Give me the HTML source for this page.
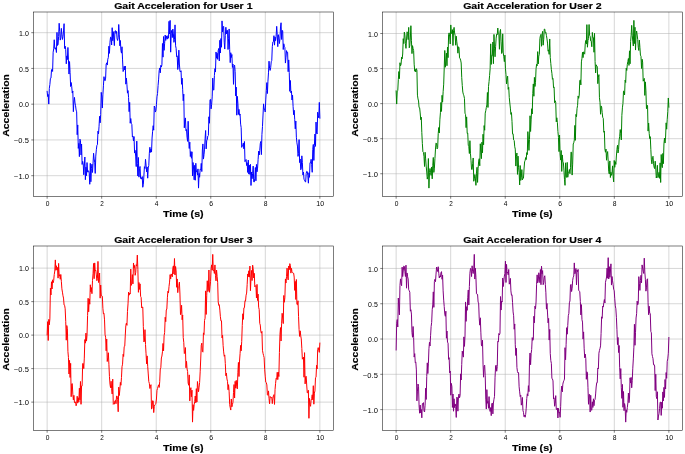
<!DOCTYPE html>
<html><head><meta charset="utf-8"><style>html,body{margin:0;padding:0;background:#fff}svg{display:block;will-change:transform}text{font-family:"Liberation Sans",sans-serif}</style></head><body>
<svg width="685" height="454" viewBox="0 0 685 454">
<rect width="685" height="454" fill="#fff"/>
<defs><clipPath id="c0"><rect x="33.5" y="12" width="300" height="184.5"/></clipPath><clipPath id="c1"><rect x="382.5" y="12" width="300" height="184.5"/></clipPath><clipPath id="c2"><rect x="33.5" y="246" width="300" height="184.5"/></clipPath><clipPath id="c3"><rect x="382.5" y="246" width="300" height="184.5"/></clipPath></defs>
<path d="M47.14 12V196.5M101.68 12V196.5M156.23 12V196.5M210.77 12V196.5M265.32 12V196.5M319.86 12V196.5M33.5 175.69H333.5M33.5 139.94H333.5M33.5 104.18H333.5M33.5 68.43H333.5M33.5 32.68H333.5" stroke="#b0b0b0" stroke-width="0.51" fill="none" stroke-linecap="square" clip-path="url(#c0)"/>
<polyline points="47.14,91.39 47.68,96.56 48.23,94.51 48.78,104.08 49.32,88.35 49.87,84.58 50.42,78.4 50.96,78.16 51.51,69.99 52.06,69.21 52.6,71.48 53.15,52.2 53.69,48.85 54.24,39.75 54.79,48.65 55.33,49.15 55.88,47.63 56.43,52.51 56.97,32.39 57.52,45.51 58.07,44.59 58.61,36.35 59.16,23.28 59.71,31.52 60.25,40.12 60.8,37.77 61.35,28.36 61.89,34.42 62.44,39.49 62.99,36.63 63.53,30.93 64.08,23.67 64.63,48.5 65.17,46.14 65.72,49.72 66.27,63.82 66.81,55.9 67.36,59.61 67.91,47.45 68.45,59.82 69,74.05 69.54,61.56 70.09,72.61 70.64,86.55 71.18,82.5 71.73,86.68 72.28,93.05 72.82,90.99 73.37,111.73 73.92,102.05 74.46,97.39 75.01,103.03 75.56,105.69 76.1,110.05 76.65,111.8 77.2,134.75 77.74,124.93 78.29,148.4 78.84,143.4 79.38,156.64 79.93,139.16 80.48,140.65 81.02,154.95 81.57,144.01 82.12,164.47 82.66,161.3 83.21,163.78 83.76,174.75 84.3,166.01 84.85,157.03 85.39,179.71 85.94,167.17 86.49,175.65 87.03,162.55 87.58,172.13 88.13,170.85 88.67,170.91 89.22,173.26 89.77,184.27 90.31,163.31 90.86,181.77 91.41,168.69 91.95,164.18 92.5,172.48 93.05,163.11 93.59,153.23 94.14,158.96 94.69,162.13 95.23,173.4 95.78,156.09 96.33,149.78 96.87,145.5 97.42,144.77 97.97,131.17 98.51,133.83 99.06,126.25 99.6,116.27 100.15,122.84 100.7,114.42 101.24,92.35 101.79,97.03 102.34,108.04 102.88,94.88 103.43,85.84 103.98,76.68 104.52,80.12 105.07,80.77 105.62,78.09 106.16,64.27 106.71,62.8 107.26,65.05 107.8,59.19 108.35,57.48 108.9,46.18 109.44,53.37 109.99,42.25 110.54,37.17 111.08,37.54 111.63,45 112.18,27.69 112.72,40.7 113.27,31.61 113.82,39.13 114.36,45.58 114.91,31.14 115.45,30.63 116,33.45 116.55,31.42 117.09,38.8 117.64,40.49 118.19,37.75 118.73,24.49 119.28,34.17 119.83,45.83 120.37,40.47 120.92,50.48 121.47,53.14 122.01,46.76 122.56,59.9 123.11,71.56 123.65,69.66 124.2,66.31 124.75,69.95 125.29,66.03 125.84,84.19 126.39,78.1 126.93,84.63 127.48,93.15 128.03,90.57 128.57,97.51 129.12,111.7 129.67,102.37 130.21,123.23 130.76,118.51 131.3,123.29 131.85,124.57 132.4,137 132.94,136.15 133.49,140.88 134.04,136.57 134.58,153.06 135.13,150.35 135.68,156.06 136.22,166.59 136.77,141.08 137.32,163.41 137.86,175.98 138.41,157.48 138.96,177.17 139.5,168.56 140.05,166.48 140.6,178.45 141.14,177.78 141.69,179.17 142.24,176.56 142.78,187.28 143.33,184.27 143.88,175.92 144.42,166.68 144.97,168.51 145.51,159.31 146.06,165.09 146.61,171.83 147.15,166.92 147.7,178.18 148.25,167.91 148.79,165.5 149.34,153.21 149.89,147.25 150.43,152.45 150.98,149.03 151.53,152.1 152.07,138.02 152.62,131.28 153.17,125.69 153.71,130.2 154.26,106.03 154.81,107.29 155.35,112.06 155.9,110.65 156.45,104.68 156.99,96.81 157.54,93.55 158.09,85.54 158.63,79.13 159.18,70.57 159.73,67.94 160.27,72.85 160.82,65.33 161.36,67.06 161.91,64.84 162.46,43.49 163,57.15 163.55,36.53 164.1,50.37 164.64,43.41 165.19,35 165.74,40.43 166.28,35.86 166.83,38.72 167.38,38.99 167.92,35.64 168.47,38.24 169.02,21.35 169.56,33.92 170.11,20.39 170.66,52.17 171.2,33.39 171.75,30.34 172.3,37.57 172.84,29.02 173.39,33.92 173.94,42.36 174.48,39.45 175.03,24.86 175.58,45.8 176.12,48.32 176.67,56.69 177.21,55.86 177.76,69.5 178.31,65.34 178.85,50.14 179.4,64.03 179.95,71.14 180.49,72.02 181.04,70.74 181.59,84.31 182.13,78.17 182.68,89.79 183.23,100.74 183.77,94.14 184.32,127.8 184.87,119.48 185.41,117.91 185.96,130.7 186.51,129.57 187.05,137.21 187.6,141.39 188.15,121.26 188.69,139.96 189.24,148.47 189.79,142.15 190.33,156.52 190.88,151.57 191.42,158.26 191.97,151.77 192.52,175.96 193.06,162.49 193.61,169 194.16,179.8 194.7,165.29 195.25,180.25 195.8,163.26 196.34,171.73 196.89,170.69 197.44,175.07 197.98,168.88 198.53,188.11 199.08,173.38 199.62,177.27 200.17,169.35 200.72,170.04 201.26,163.36 201.81,171.57 202.36,150 202.9,143.93 203.45,159.09 204,154.62 204.54,149.16 205.09,138.69 205.64,130.51 206.18,148.89 206.73,140.71 207.27,139.82 207.82,135.99 208.37,135.46 208.91,116.78 209.46,123.24 210.01,99.73 210.55,99.49 211.1,108.85 211.65,104.36 212.19,96.91 212.74,78.1 213.29,89.84 213.83,90.17 214.38,75.67 214.93,68.59 215.47,72.03 216.02,51.97 216.57,58.21 217.11,53.24 217.66,59.34 218.21,50.45 218.75,48.45 219.3,60.96 219.85,40.27 220.39,53.03 220.94,38.52 221.49,47.23 222.03,20.9 222.58,31.93 223.12,27.3 223.67,26.36 224.22,42.16 224.76,49.05 225.31,35.42 225.86,27.25 226.4,33.9 226.95,30.1 227.5,30.45 228.04,49.52 228.59,38.75 229.14,28.96 229.68,49.55 230.23,62.67 230.78,52.72 231.32,57.5 231.87,54.5 232.42,67.38 232.96,64.02 233.51,84.35 234.06,66.36 234.6,65.21 235.15,71.48 235.7,95.9 236.24,87.15 236.79,115.2 237.33,96.31 237.88,103.29 238.43,114.46 238.97,109.36 239.52,115.29 240.07,113.97 240.61,124.13 241.16,127.62 241.71,147.37 242.25,145.8 242.8,144.83 243.35,143.07 243.89,148.84 244.44,141.49 244.99,161.68 245.53,160.21 246.08,159.49 246.63,165.56 247.17,162.72 247.72,172.45 248.27,160.07 248.81,174.11 249.36,165.17 249.91,174.42 250.45,164.31 251,185.47 251.55,171.99 252.09,178.71 252.64,173.6 253.18,166.09 253.73,181.85 254.28,181.97 254.82,178.2 255.37,167.51 255.92,180.84 256.46,164.42 257.01,171.84 257.56,168.11 258.1,159.64 258.65,151.14 259.2,155.01 259.74,150.53 260.29,143.62 260.84,141.43 261.38,154.64 261.93,134.47 262.48,126.57 263.02,115.02 263.57,103.86 264.12,109.29 264.66,109.02 265.21,111.98 265.76,99.95 266.3,90.53 266.85,82.6 267.4,93.54 267.94,81.21 268.49,72.82 269.03,61.19 269.58,68.64 270.13,70.43 270.67,67.74 271.22,61.78 271.77,60.48 272.31,46.69 272.86,41.94 273.41,41.6 273.95,35.69 274.5,45.13 275.05,37.08 275.59,40.72 276.14,36.09 276.69,26.34 277.23,34.29 277.78,46.67 278.33,34.67 278.87,37.78 279.42,43.57 279.97,38.81 280.51,26.95 281.06,22.75 281.61,39.48 282.15,30.3 282.7,30.8 283.24,49.53 283.79,43.77 284.34,46.31 284.88,47.49 285.43,63.07 285.98,57.32 286.52,50.62 287.07,52.69 287.62,52.33 288.16,71.69 288.71,59.91 289.26,72.63 289.8,91.34 290.35,80.48 290.9,92.84 291.44,91.05 291.99,99.97 292.54,95.09 293.08,106.4 293.63,114.74 294.18,110.27 294.72,119.73 295.27,128.85 295.82,121.01 296.36,137.2 296.91,142.86 297.46,146.05 298,156.4 298.55,153.45 299.09,139.58 299.64,162.58 300.19,159.01 300.73,169.77 301.28,168.77 301.83,155.84 302.37,162.35 302.92,174.93 303.47,172.06 304.01,179.29 304.56,179.99 305.11,181.64 305.65,181.95 306.2,173.36 306.75,171.3 307.29,171.66 307.84,175.67 308.39,183.2 308.93,172.73 309.48,177.34 310.03,162.65 310.57,162.94 311.12,159.3 311.67,164.61 312.21,172.31 312.76,149.54 313.31,144.44 313.85,160.45 314.4,145.3 314.94,134.04 315.49,146.39 316.04,122.05 316.58,133.05 317.13,134.01 317.68,112.19 318.22,115.5 318.77,117.83 319.32,102.39 319.86,118.17" stroke="#0000ff" stroke-width="1" fill="none" stroke-linejoin="round" stroke-linecap="square" clip-path="url(#c0)"/>
<rect x="33.5" y="12" width="300" height="184.5" fill="none" stroke="#000" stroke-width="0.51" stroke-linejoin="miter"/>
<path d="M47.14 196.5v2.22M101.68 196.5v2.22M156.23 196.5v2.22M210.77 196.5v2.22M265.32 196.5v2.22M319.86 196.5v2.22M33.5 175.69h-2.22M33.5 139.94h-2.22M33.5 104.18h-2.22M33.5 68.43h-2.22M33.5 32.68h-2.22" stroke="#000" stroke-width="0.51" fill="none"/>
<path d="M396.14 12V196.5M450.68 12V196.5M505.23 12V196.5M559.77 12V196.5M614.32 12V196.5M668.86 12V196.5M382.5 173.74H682.5M382.5 138.68H682.5M382.5 103.63H682.5M382.5 68.57H682.5M382.5 33.51H682.5" stroke="#b0b0b0" stroke-width="0.51" fill="none" stroke-linecap="square" clip-path="url(#c1)"/>
<polyline points="396.14,90.9 396.68,104.06 397.23,91.07 397.78,90.67 398.32,79.7 398.87,71.54 399.42,78.7 399.96,62.74 400.51,65.85 401.06,64.37 401.6,57.13 402.15,58.88 402.69,54 403.24,38.66 403.79,43.6 404.33,32.12 404.88,35.03 405.43,43.57 405.97,48.37 406.52,38.97 407.07,31.79 407.61,33.46 408.16,39.63 408.71,27.39 409.25,47.8 409.8,45.85 410.35,37.98 410.89,25.71 411.44,40.75 411.99,53.62 412.53,45.65 413.08,48.56 413.63,50.61 414.17,64.16 414.72,71.23 415.27,69.35 415.81,72.01 416.36,68.63 416.91,70.23 417.45,95.17 418,98.93 418.54,100.98 419.09,107.58 419.64,107.71 420.18,112.95 420.73,119.72 421.28,117.17 421.82,132.64 422.37,143.67 422.92,151.83 423.46,152.47 424.01,156.73 424.56,166.49 425.1,152.23 425.65,158.87 426.2,166.1 426.74,172 427.29,179.12 427.84,176.39 428.38,158.52 428.93,188.11 429.48,172.37 430.02,168.5 430.57,172.71 431.12,175.43 431.66,166.98 432.21,178.86 432.76,165.61 433.3,157.47 433.85,172.44 434.39,168.17 434.94,158.42 435.49,149.07 436.03,142.95 436.58,143.62 437.13,148.89 437.67,147.57 438.22,133.42 438.77,127.51 439.31,133.05 439.86,119.82 440.41,112.72 440.95,102.47 441.5,111.45 442.05,95.31 442.59,102.14 443.14,91.72 443.69,84.15 444.23,67.95 444.78,50.48 445.33,67.24 445.87,61.04 446.42,53.17 446.97,65.75 447.51,47.07 448.06,57.67 448.6,34.39 449.15,32.86 449.7,36.98 450.24,44.03 450.79,24.93 451.34,33.44 451.88,33.51 452.43,29.64 452.98,45.52 453.52,30.73 454.07,27.36 454.62,32.98 455.16,35.74 455.71,45.23 456.26,36.18 456.8,41.8 457.35,46 457.9,53.2 458.44,46.74 458.99,47.78 459.54,57.86 460.08,58.59 460.63,60.11 461.18,62.98 461.72,77.42 462.27,85.52 462.82,92.07 463.36,94.29 463.91,95.79 464.45,98.37 465,113.23 465.55,114.44 466.09,127.66 466.64,116.89 467.19,133.46 467.73,133.01 468.28,145.18 468.83,146.64 469.37,153.54 469.92,140.7 470.47,153.78 471.01,160.81 471.56,169.31 472.11,169.63 472.65,163.7 473.2,157.97 473.75,181.28 474.29,178.88 474.84,174.5 475.39,178.09 475.93,185.33 476.48,173.18 477.03,167.27 477.57,182.42 478.12,168.32 478.67,161.1 479.21,158.68 479.76,165.84 480.3,143.75 480.85,152.7 481.4,158.66 481.94,142.17 482.49,152.78 483.04,134.24 483.58,144.76 484.13,125.58 484.68,130.26 485.22,113.16 485.77,110.73 486.32,107.54 486.86,104.98 487.41,92.48 487.96,107.47 488.5,86.56 489.05,81.55 489.6,75.48 490.14,68.73 490.69,43.83 491.24,64.43 491.78,55.29 492.33,55.79 492.88,42.02 493.42,63.69 493.97,34.41 494.51,48.22 495.06,56.75 495.61,46.26 496.15,38.12 496.7,34.1 497.25,34.74 497.79,28.04 498.34,33.76 498.89,34.11 499.43,49.25 499.98,31.75 500.53,29.41 501.07,41.17 501.62,53.47 502.17,52.13 502.71,33.83 503.26,52.94 503.81,56.8 504.35,61.62 504.9,55.11 505.45,68.27 505.99,74.73 506.54,83.88 507.09,78.93 507.63,76.16 508.18,89.34 508.73,87.32 509.27,97.55 509.82,103.03 510.36,108.1 510.91,114.38 511.46,112.62 512,121.49 512.55,133.95 513.1,133.83 513.64,139.91 514.19,140.43 514.74,146.79 515.28,149.11 515.83,166.07 516.38,156.44 516.92,152.97 517.47,174.39 518.02,156.09 518.56,167.27 519.11,172.46 519.66,184.93 520.2,165.53 520.75,180.44 521.3,177.31 521.84,169.58 522.39,179.88 522.94,178.5 523.48,178.16 524.03,168.99 524.58,161.84 525.12,160.54 525.67,157.57 526.21,159.58 526.76,152.61 527.31,154.58 527.85,131.61 528.4,139.9 528.95,150.4 529.49,139.43 530.04,115.78 530.59,131.53 531.13,119.86 531.68,108.73 532.23,113.96 532.77,93.5 533.32,83.93 533.87,96.25 534.41,77.39 534.96,86.5 535.51,82.32 536.05,68.84 536.6,64.32 537.15,65.81 537.69,51.61 538.24,63.96 538.79,56.09 539.33,54.38 539.88,38.57 540.42,35.65 540.97,34.37 541.52,46.25 542.06,34.74 542.61,31.35 543.16,45.19 543.7,39.29 544.25,29.09 544.8,29.16 545.34,33.19 545.89,32.45 546.44,35.63 546.98,38.88 547.53,43.09 548.08,51.18 548.62,49.87 549.17,54.37 549.72,38.98 550.26,57.38 550.81,63.5 551.36,69.5 551.9,73.33 552.45,79.27 553,78.52 553.54,87.65 554.09,86.95 554.64,102.77 555.18,100.73 555.73,102.33 556.27,121.84 556.82,117.78 557.37,122.34 557.91,131.42 558.46,137.35 559.01,151.62 559.55,135.05 560.1,153.91 560.65,160.07 561.19,150.5 561.74,171.41 562.29,154.94 562.83,161.45 563.38,162.75 563.93,170.19 564.47,179.29 565.02,185.33 565.57,162.82 566.11,176.89 566.66,177.36 567.21,162.39 567.75,177.26 568.3,173.46 568.85,172.02 569.39,169.51 569.94,173.65 570.49,167.75 571.03,151.93 571.58,152.39 572.12,175.08 572.67,164.13 573.22,143.98 573.76,142.8 574.31,140.09 574.86,125.42 575.4,140.35 575.95,114.39 576.5,116.73 577.04,108.59 577.59,105.38 578.14,95.93 578.68,98.33 579.23,95.13 579.78,80.68 580.32,79.85 580.87,84.93 581.42,61.88 581.96,58.25 582.51,52.24 583.06,57.63 583.6,51.83 584.15,53.34 584.7,54.17 585.24,43.89 585.79,40.46 586.33,44.04 586.88,24.63 587.43,47.22 587.97,40.44 588.52,38.65 589.07,24.5 589.61,35.37 590.16,36.27 590.71,41.01 591.25,41.37 591.8,46.75 592.35,32.45 592.89,37.64 593.44,37.65 593.99,52.26 594.53,33.34 595.08,61.48 595.63,72.92 596.17,64.75 596.72,66.15 597.27,66.43 597.81,83.67 598.36,77.36 598.91,74.61 599.45,97.74 600,102.21 600.55,114.24 601.09,105.91 601.64,106.86 602.18,112.71 602.73,117.38 603.28,118.32 603.82,132.24 604.37,131.17 604.92,149.04 605.46,152.22 606.01,149.04 606.56,160.25 607.1,154 607.65,151.55 608.2,161.22 608.74,171.73 609.29,173.96 609.84,160.92 610.38,177.49 610.93,172.28 611.48,175.34 612.02,173.37 612.57,165.87 613.12,176.75 613.66,181.88 614.21,160.45 614.76,167.31 615.3,161.67 615.85,164.41 616.4,155.99 616.94,149.42 617.49,145.24 618.03,152.97 618.58,149.49 619.13,139.97 619.67,136.78 620.22,129.57 620.77,133.65 621.31,139.95 621.86,115.37 622.41,107.83 622.95,103.53 623.5,91.11 624.05,91.48 624.59,94.92 625.14,80.1 625.69,82.51 626.23,68.15 626.78,70.46 627.33,64.31 627.87,61.46 628.42,58.48 628.97,65.41 629.51,50.84 630.06,63.81 630.61,41.34 631.15,35.16 631.7,25.37 632.24,35.13 632.79,41.15 633.34,46.03 633.88,20.39 634.43,43.59 634.98,27.26 635.52,50.06 636.07,35 636.62,30.99 637.16,35.03 637.71,39.51 638.26,47.27 638.8,50.48 639.35,40.02 639.9,47.32 640.44,55.1 640.99,56.4 641.54,68.49 642.08,59.2 642.63,62.11 643.18,81.2 643.72,79.95 644.27,78.38 644.82,95.4 645.36,81.87 645.91,90.83 646.46,108.67 647,105.13 647.55,105.57 648.09,131.1 648.64,123.08 649.19,133.34 649.73,138.6 650.28,136.65 650.83,149.32 651.37,159.88 651.92,163.87 652.47,157.58 653.01,156.27 653.56,163.76 654.11,167.24 654.65,168.6 655.2,161.19 655.75,167.97 656.29,178 656.84,175.47 657.39,165.28 657.93,177.68 658.48,175.87 659.03,172.36 659.57,178.35 660.12,162.87 660.67,182.48 661.21,154.53 661.76,164.99 662.31,167.64 662.85,153.44 663.4,163.7 663.94,143.94 664.49,138.05 665.04,143.04 665.58,137.06 666.13,122.83 666.68,129.2 667.22,119.22 667.77,111.74 668.32,97.98 668.86,107.15" stroke="#008000" stroke-width="1" fill="none" stroke-linejoin="round" stroke-linecap="square" clip-path="url(#c1)"/>
<rect x="382.5" y="12" width="300" height="184.5" fill="none" stroke="#000" stroke-width="0.51" stroke-linejoin="miter"/>
<path d="M396.14 196.5v2.22M450.68 196.5v2.22M505.23 196.5v2.22M559.77 196.5v2.22M614.32 196.5v2.22M668.86 196.5v2.22M382.5 173.74h-2.22M382.5 138.68h-2.22M382.5 103.63h-2.22M382.5 68.57h-2.22M382.5 33.51h-2.22" stroke="#000" stroke-width="0.51" fill="none"/>
<path d="M47.14 246V430.5M101.68 246V430.5M156.23 246V430.5M210.77 246V430.5M265.32 246V430.5M319.86 246V430.5M33.5 402.12H333.5M33.5 368.62H333.5M33.5 335.12H333.5M33.5 301.62H333.5M33.5 268.12H333.5" stroke="#b0b0b0" stroke-width="0.51" fill="none" stroke-linecap="square" clip-path="url(#c2)"/>
<polyline points="47.14,334.89 47.68,321.64 48.23,340.5 48.78,319.41 49.32,324.78 49.87,318.87 50.42,288.21 50.96,294.94 51.51,281.76 52.06,288.99 52.6,279.8 53.15,282.77 53.69,280.42 54.24,274.58 54.79,271.03 55.33,259.91 55.88,270.3 56.43,265.75 56.97,269.85 57.52,267.51 58.07,278.14 58.61,263.42 59.16,276.11 59.71,274.7 60.25,279.25 60.8,274.5 61.35,281.3 61.89,288.79 62.44,292.15 62.99,295.8 63.53,298.09 64.08,305.07 64.63,305.37 65.17,308.81 65.72,321.34 66.27,340.19 66.81,325.52 67.36,328.71 67.91,351.38 68.45,357.43 69,374.02 69.54,360.38 70.09,377.48 70.64,363.33 71.18,396.73 71.73,383.84 72.28,383.62 72.82,394.23 73.37,399.83 73.92,395.33 74.46,402.56 75.01,402.85 75.56,401.83 76.1,405.8 76.65,403.58 77.2,396.24 77.74,403.08 78.29,397.78 78.84,401.9 79.38,388.19 79.93,399.93 80.48,381.47 81.02,404.32 81.57,385.92 82.12,385.9 82.66,363.58 83.21,363.42 83.76,368.63 84.3,358.11 84.85,339.57 85.39,343.15 85.94,333.12 86.49,341.1 87.03,335.22 87.58,315.53 88.13,298.25 88.67,311.82 89.22,298.97 89.77,304.22 90.31,284.77 90.86,291.78 91.41,287.6 91.95,293.7 92.5,280.56 93.05,273.74 93.59,263.43 94.14,278.69 94.69,262.91 95.23,270.95 95.78,270.28 96.33,274.91 96.87,280.69 97.42,278.67 97.97,261.4 98.51,282.51 99.06,280.16 99.6,273 100.15,298.16 100.7,285.02 101.24,295.79 101.79,295.8 102.34,296.24 102.88,308.3 103.43,314.06 103.98,313.51 104.52,319.87 105.07,334.82 105.62,337.16 106.16,350.8 106.71,338.99 107.26,361.51 107.8,357.76 108.35,352.74 108.9,364.24 109.44,376.52 109.99,384.08 110.54,387.69 111.08,381.24 111.63,388.62 112.18,394.01 112.72,379.14 113.27,404.34 113.82,403.69 114.36,404.08 114.91,400.75 115.45,400.26 116,403.76 116.55,396.09 117.09,395.99 117.64,399.73 118.19,411.75 118.73,387.17 119.28,395.55 119.83,389.86 120.37,382.37 120.92,385.25 121.47,377.61 122.01,366.72 122.56,364.2 123.11,354.27 123.65,356.48 124.2,346.5 124.75,346.19 125.29,335.1 125.84,325.39 126.39,323.14 126.93,325.39 127.48,311.51 128.03,303.88 128.57,292.17 129.12,295.19 129.67,293.14 130.21,294.06 130.76,269.09 131.3,285.41 131.85,283.68 132.4,274.66 132.94,283.87 133.49,262.98 134.04,267.96 134.58,265.43 135.13,275.32 135.68,272.73 136.22,264.67 136.77,265.94 137.32,255.08 137.86,269.27 138.41,292.32 138.96,282.51 139.5,289.38 140.05,283.86 140.6,296.37 141.14,297.38 141.69,307.96 142.24,307.13 142.78,307 143.33,326.63 143.88,342 144.42,341.17 144.97,329.67 145.51,344.51 146.06,353.76 146.61,363.89 147.15,355.89 147.7,366.26 148.25,373.96 148.79,381.56 149.34,383.37 149.89,388.51 150.43,386.17 150.98,384.68 151.53,409.11 152.07,408.01 152.62,400.74 153.17,400.87 153.71,412.59 154.26,406.64 154.81,404.93 155.35,404.45 155.9,403.32 156.45,399.01 156.99,390.25 157.54,388.48 158.09,386.28 158.63,384.8 159.18,387.44 159.73,381.5 160.27,368.92 160.82,367.79 161.36,357.94 161.91,356.05 162.46,351.77 163,343.44 163.55,350.86 164.1,335.7 164.64,332.68 165.19,317.24 165.74,321.66 166.28,310 166.83,309.04 167.38,297.79 167.92,291.25 168.47,292.86 169.02,286.49 169.56,282.13 170.11,274.63 170.66,278.96 171.2,273.91 171.75,274.92 172.3,276.87 172.84,268.14 173.39,265.86 173.94,274.05 174.48,258.5 175.03,275.02 175.58,266.47 176.12,270.91 176.67,287.29 177.21,278.94 177.76,292.65 178.31,286.58 178.85,285.48 179.4,282.12 179.95,294.06 180.49,314.65 181.04,312.12 181.59,305.24 182.13,319.79 182.68,314.97 183.23,337.56 183.77,342.34 184.32,353.54 184.87,352.88 185.41,347.57 185.96,367.77 186.51,361.29 187.05,368.91 187.6,371.51 188.15,383.03 188.69,385.28 189.24,374.86 189.79,400.9 190.33,390.33 190.88,387.66 191.42,396.73 191.97,390.17 192.52,422.11 193.06,404.7 193.61,410.42 194.16,404.77 194.7,401.58 195.25,396 195.8,402.85 196.34,388.65 196.89,402.03 197.44,381.53 197.98,385.78 198.53,391.74 199.08,387.16 199.62,382.38 200.17,371.85 200.72,358.99 201.26,345.33 201.81,343.17 202.36,351.55 202.9,352.17 203.45,332.87 204,334.57 204.54,320.42 205.09,318.21 205.64,290.9 206.18,314.45 206.73,295.8 207.27,280.76 207.82,291.61 208.37,290.11 208.91,269.99 209.46,292.31 210.01,286.87 210.55,281.35 211.1,268.66 211.65,264.87 212.19,270.16 212.74,254.39 213.29,270.7 213.83,270.12 214.38,273.46 214.93,264.92 215.47,275.39 216.02,280.86 216.57,270.05 217.11,276.31 217.66,282.24 218.21,301.93 218.75,305.32 219.3,304.72 219.85,310.1 220.39,316.72 220.94,320.96 221.49,320.85 222.03,337.9 222.58,335.29 223.12,345.5 223.67,351.9 224.22,356.28 224.76,354.95 225.31,363.43 225.86,375.76 226.4,373.11 226.95,378.99 227.5,381.33 228.04,389.74 228.59,384.67 229.14,391.81 229.68,404.64 230.23,407.65 230.78,410.07 231.32,398.97 231.87,406.87 232.42,404.61 232.96,402.25 233.51,392.51 234.06,384.56 234.6,398.03 235.15,381.37 235.7,388.15 236.24,380.35 236.79,386.55 237.33,388.85 237.88,372.71 238.43,362.43 238.97,376.52 239.52,361.06 240.07,353.62 240.61,345.37 241.16,350.88 241.71,341.45 242.25,325.53 242.8,313.75 243.35,319.4 243.89,307.82 244.44,307.73 244.99,300.64 245.53,301.08 246.08,295.22 246.63,293.08 247.17,284.43 247.72,273.94 248.27,276.78 248.81,270.78 249.36,277.1 249.91,266.06 250.45,290.7 251,278.15 251.55,270.44 252.09,280.57 252.64,265.15 253.18,268.73 253.73,277.96 254.28,273.32 254.82,286.78 255.37,285.79 255.92,285.8 256.46,297.95 257.01,284.39 257.56,300.5 258.1,294.12 258.65,307.2 259.2,309.54 259.74,323.39 260.29,325.07 260.84,331.68 261.38,333.16 261.93,331.39 262.48,350.28 263.02,353.36 263.57,355.47 264.12,357.56 264.66,369.34 265.21,376.14 265.76,382.17 266.3,382.54 266.85,384.94 267.4,394.75 267.94,395.36 268.49,390.9 269.03,398.4 269.58,403.82 270.13,396.45 270.67,397.14 271.22,398.02 271.77,397.33 272.31,403.63 272.86,398.26 273.41,395.67 273.95,394.63 274.5,404.43 275.05,389.53 275.59,383.38 276.14,378.35 276.69,379.25 277.23,372.28 277.78,379.58 278.33,372.2 278.87,376.57 279.42,352.54 279.97,334.31 280.51,327.6 281.06,341 281.61,323.18 282.15,313.27 282.7,318.03 283.24,323.59 283.79,295.48 284.34,302.27 284.88,297.62 285.43,278.94 285.98,283.04 286.52,276.68 287.07,268.16 287.62,276.9 288.16,279.9 288.71,265.99 289.26,269.69 289.8,263.63 290.35,265.36 290.9,273.12 291.44,268.31 291.99,271.74 292.54,272.58 293.08,273.29 293.63,273.16 294.18,277.06 294.72,290.4 295.27,281.42 295.82,299.47 296.36,279.51 296.91,304.35 297.46,304.76 298,300.75 298.55,316.63 299.09,329.52 299.64,336.43 300.19,330.82 300.73,335.85 301.28,338.93 301.83,348.46 302.37,359.2 302.92,358.31 303.47,357.12 304.01,377.22 304.56,352.63 305.11,383.87 305.65,376.75 306.2,376.19 306.75,386.01 307.29,392.93 307.84,392.48 308.39,390.25 308.93,418.31 309.48,398.38 310.03,404.55 310.57,406.32 311.12,400.2 311.67,398.59 312.21,394.79 312.76,399.85 313.31,385.7 313.85,404.2 314.4,393.14 314.94,390.88 315.49,377.71 316.04,377.13 316.58,365.28 317.13,368.9 317.68,349.56 318.22,347.61 318.77,350.29 319.32,352.36 319.86,343.1" stroke="#ff0000" stroke-width="1" fill="none" stroke-linejoin="round" stroke-linecap="square" clip-path="url(#c2)"/>
<rect x="33.5" y="246" width="300" height="184.5" fill="none" stroke="#000" stroke-width="0.51" stroke-linejoin="miter"/>
<path d="M47.14 430.5v2.22M101.68 430.5v2.22M156.23 430.5v2.22M210.77 430.5v2.22M265.32 430.5v2.22M319.86 430.5v2.22M33.5 402.12h-2.22M33.5 368.62h-2.22M33.5 335.12h-2.22M33.5 301.62h-2.22M33.5 268.12h-2.22" stroke="#000" stroke-width="0.51" fill="none"/>
<path d="M396.14 246V430.5M450.68 246V430.5M505.23 246V430.5M559.77 246V430.5M614.32 246V430.5M668.86 246V430.5M382.5 409.61H682.5M382.5 374.32H682.5M382.5 339.03H682.5M382.5 303.74H682.5M382.5 268.45H682.5" stroke="#b0b0b0" stroke-width="0.51" fill="none" stroke-linecap="square" clip-path="url(#c3)"/>
<polyline points="396.14,349.98 396.68,323.16 397.23,319.56 397.78,327 398.32,298.03 398.87,307.06 399.42,314.86 399.96,285.6 400.51,278.89 401.06,283.41 401.6,285.7 402.15,267.14 402.69,276.59 403.24,270.97 403.79,266.03 404.33,266.41 404.88,271.75 405.43,276.52 405.97,265.18 406.52,288.19 407.07,272.94 407.61,276.74 408.16,278.91 408.71,289.79 409.25,290.71 409.8,292.21 410.35,311.17 410.89,309.73 411.44,314.05 411.99,332.49 412.53,337.28 413.08,326.5 413.63,337.44 414.17,357.08 414.72,353.63 415.27,362.56 415.81,361.96 416.36,369.93 416.91,400.89 417.45,391.1 418,384.01 418.54,386.38 419.09,405.91 419.64,413.23 420.18,405.01 420.73,412.98 421.28,409.47 421.82,417.83 422.37,403.63 422.92,403.79 423.46,402.65 424.01,411.06 424.56,411.98 425.1,405.21 425.65,388.22 426.2,399.46 426.74,376.63 427.29,362.85 427.84,373.55 428.38,363.85 428.93,348.77 429.48,342.28 430.02,346.03 430.57,335.79 431.12,326.63 431.66,322.42 432.21,309.7 432.76,304.94 433.3,291.86 433.85,307.35 434.39,281.57 434.94,279.31 435.49,281.7 436.03,274.1 436.58,267.05 437.13,269.39 437.67,271.51 438.22,266.72 438.77,273.3 439.31,278.02 439.86,276.03 440.41,277.09 440.95,272.77 441.5,271.64 442.05,279.27 442.59,275.06 443.14,290.85 443.69,300.15 444.23,306.55 444.78,313.98 445.33,316.29 445.87,311.2 446.42,338.24 446.97,331.01 447.51,342.1 448.06,343.15 448.6,359.33 449.15,357.67 449.7,372.84 450.24,371.1 450.79,395.23 451.34,383.36 451.88,386.53 452.43,407.43 452.98,394.01 453.52,411.22 454.07,398.77 454.62,407.64 455.16,403.93 455.71,406.6 456.26,417.43 456.8,397.07 457.35,397.73 457.9,411.17 458.44,396.94 458.99,394.02 459.54,397.82 460.08,395.57 460.63,373.87 461.18,379.97 461.72,364.62 462.27,351.11 462.82,354.38 463.36,357.13 463.91,336.87 464.45,346.41 465,336.03 465.55,301.95 466.09,321.4 466.64,306.7 467.19,310.34 467.73,297.78 468.28,289.97 468.83,305.04 469.37,286.46 469.92,273.21 470.47,268.44 471.01,269.5 471.56,276.57 472.11,265.79 472.65,271.45 473.2,273.55 473.75,268.93 474.29,254.39 474.84,279.06 475.39,268.24 475.93,277.32 476.48,293.73 477.03,294.38 477.57,294.35 478.12,302.16 478.67,303.04 479.21,318.3 479.76,325.16 480.3,317.79 480.85,332.15 481.4,345.03 481.94,346.13 482.49,340.19 483.04,364.13 483.58,377.19 484.13,366.45 484.68,365.21 485.22,375.8 485.77,399.13 486.32,409.04 486.86,389.65 487.41,403.29 487.96,401.28 488.5,408.31 489.05,396.6 489.6,408.69 490.14,411.47 490.69,407.56 491.24,415.65 491.78,403.94 492.33,402.98 492.88,413.89 493.42,403.02 493.97,399.24 494.51,396.37 495.06,377.2 495.61,365.78 496.15,365.13 496.7,371.25 497.25,366.52 497.79,341.43 498.34,342.05 498.89,333.49 499.43,334.92 499.98,333.19 500.53,296.54 501.07,310.05 501.62,301.05 502.17,302.09 502.71,277.99 503.26,286.58 503.81,281.06 504.35,276.06 504.9,273.55 505.45,261.2 505.99,282.49 506.54,264.35 507.09,273.02 507.63,272.09 508.18,274.84 508.73,269.45 509.27,284.16 509.82,282.22 510.36,278.37 510.91,290.86 511.46,295.21 512,294.69 512.55,302.65 513.1,311.93 513.64,315.78 514.19,329.24 514.74,323.94 515.28,344.78 515.83,355.51 516.38,348.25 516.92,367.48 517.47,371.7 518.02,372.97 518.56,372.62 519.11,386.77 519.66,391.86 520.2,396.58 520.75,395.2 521.3,405.15 521.84,402.92 522.39,397.43 522.94,410.32 523.48,412.37 524.03,416.61 524.58,414.98 525.12,417.25 525.67,414.42 526.21,408.26 526.76,398.63 527.31,393.79 527.85,395.87 528.4,385.66 528.95,391.67 529.49,362.08 530.04,353.01 530.59,364.74 531.13,353.56 531.68,349.46 532.23,337.6 532.77,340.42 533.32,339.61 533.87,316.25 534.41,322.84 534.96,306.14 535.51,308.89 536.05,301.98 536.6,284.2 537.15,274.85 537.69,282.92 538.24,281 538.79,272.75 539.33,276.19 539.88,282.7 540.42,269.51 540.97,284.71 541.52,266.21 542.06,273.79 542.61,270.61 543.16,284.71 543.7,282.68 544.25,277.08 544.8,275.74 545.34,284.27 545.89,292.79 546.44,309.11 546.98,303.41 547.53,312.98 548.08,322.89 548.62,318.42 549.17,340.07 549.72,329.36 550.26,353.4 550.81,360.6 551.36,363.35 551.9,378.55 552.45,378.84 553,380.9 553.54,398.91 554.09,397.83 554.64,406.27 555.18,403.47 555.73,395.64 556.27,409.37 556.82,409.6 557.37,407.96 557.91,417.94 558.46,408.35 559.01,412.75 559.55,412.07 560.1,417.31 560.65,406.77 561.19,391.46 561.74,386.07 562.29,391.94 562.83,384.13 563.38,381.9 563.93,380.59 564.47,379.09 565.02,347.68 565.57,359.74 566.11,344.25 566.66,327.68 567.21,334.21 567.75,325.64 568.3,315.72 568.85,313.45 569.39,302.8 569.94,300.93 570.49,284.97 571.03,284.38 571.58,291.56 572.12,288.55 572.67,280.27 573.22,277.26 573.76,276.06 574.31,262.9 574.86,273.81 575.4,271.96 575.95,268.46 576.5,284.9 577.04,269.99 577.59,271.73 578.14,269.4 578.68,290.22 579.23,291.19 579.78,291.56 580.32,301.3 580.87,314.92 581.42,304.64 581.96,319.66 582.51,322.07 583.06,339.1 583.6,331.88 584.15,348.18 584.7,357.81 585.24,354.08 585.79,358.52 586.33,379.3 586.88,371.77 587.43,373.03 587.97,387.8 588.52,404.27 589.07,394.45 589.61,394.47 590.16,412.05 590.71,395.3 591.25,409.99 591.8,410.27 592.35,401.81 592.89,407.45 593.44,398.81 593.99,405.68 594.53,400.17 595.08,399.42 595.63,393.95 596.17,387 596.72,382.66 597.27,382.67 597.81,367.98 598.36,368.89 598.91,353.2 599.45,350.48 600,348.47 600.55,345.91 601.09,333.35 601.64,316.82 602.18,318.32 602.73,306.08 603.28,307.08 603.82,302.55 604.37,299.51 604.92,303 605.46,282.31 606.01,280.03 606.56,277.01 607.1,268.14 607.65,278.24 608.2,257.67 608.74,279.01 609.29,266.67 609.84,277.31 610.38,272.02 610.93,263.83 611.48,285.07 612.02,276.5 612.57,280.84 613.12,284.76 613.66,289.19 614.21,290.77 614.76,298.81 615.3,305.89 615.85,308.81 616.4,317.23 616.94,329.78 617.49,344.62 618.03,337.46 618.58,352.56 619.13,345.49 619.67,367.81 620.22,378.89 620.77,368.6 621.31,387.67 621.86,398.36 622.41,384.39 622.95,407.3 623.5,391.52 624.05,410.67 624.59,403.54 625.14,406.64 625.69,422.11 626.23,409.8 626.78,412.32 627.33,407.42 627.87,402.82 628.42,393 628.97,402.72 629.51,398.03 630.06,377.82 630.61,383.04 631.15,377.43 631.7,387.8 632.24,380.69 632.79,368.23 633.34,358.9 633.88,347.18 634.43,324.27 634.98,345.3 635.52,332.28 636.07,317.98 636.62,313.69 637.16,301.11 637.71,304.8 638.26,303.2 638.8,276.65 639.35,283.31 639.9,290.42 640.44,280.54 640.99,275.3 641.54,282.8 642.08,264.9 642.63,268.09 643.18,271.23 643.72,273.47 644.27,258.17 644.82,271.98 645.36,279.21 645.91,291.17 646.46,287.85 647,279.66 647.55,278.79 648.09,302.81 648.64,314.75 649.19,306.2 649.73,313.22 650.28,313.52 650.83,331.54 651.37,332.81 651.92,353.79 652.47,356.5 653.01,358.64 653.56,364.77 654.11,364.5 654.65,365.95 655.2,390.58 655.75,374.21 656.29,396.46 656.84,398.7 657.39,391.75 657.93,420.01 658.48,416.04 659.03,413.68 659.57,408.61 660.12,402.19 660.67,402 661.21,415.41 661.76,402.18 662.31,408.25 662.85,391.92 663.4,400.89 663.94,387.35 664.49,397.43 665.04,379.51 665.58,389 666.13,372.54 666.68,378.34 667.22,361.25 667.77,358.91 668.32,353.21 668.86,337.51" stroke="#800080" stroke-width="1" fill="none" stroke-linejoin="round" stroke-linecap="square" clip-path="url(#c3)"/>
<rect x="382.5" y="246" width="300" height="184.5" fill="none" stroke="#000" stroke-width="0.51" stroke-linejoin="miter"/>
<path d="M396.14 430.5v2.22M450.68 430.5v2.22M505.23 430.5v2.22M559.77 430.5v2.22M614.32 430.5v2.22M668.86 430.5v2.22M382.5 409.61h-2.22M382.5 374.32h-2.22M382.5 339.03h-2.22M382.5 303.74h-2.22M382.5 268.45h-2.22" stroke="#000" stroke-width="0.51" fill="none"/>
<text x="45.67" y="205.95" font-size="6.72" textLength="3.7" lengthAdjust="spacingAndGlyphs">0</text>
<text x="100.21" y="205.95" font-size="6.72" textLength="3.54" lengthAdjust="spacingAndGlyphs">2</text>
<text x="154.79" y="205.95" font-size="6.69" textLength="3.67" lengthAdjust="spacingAndGlyphs">4</text>
<text x="209.25" y="205.95" font-size="6.72" textLength="3.86" lengthAdjust="spacingAndGlyphs">6</text>
<text x="263.86" y="205.95" font-size="6.72" textLength="3.75" lengthAdjust="spacingAndGlyphs">8</text>
<text x="316.37" y="205.95" font-size="6.72" textLength="7.8" lengthAdjust="spacingAndGlyphs">10</text>
<text x="163.03" y="217.03" font-size="9.23" font-weight="bold" stroke="#000" stroke-width="0.17" textLength="40.6" lengthAdjust="spacingAndGlyphs">Time (s)</text>
<text x="13.98" y="179" font-size="6.72" textLength="15" lengthAdjust="spacingAndGlyphs">−1.0</text>
<text x="13.98" y="143.24" font-size="6.72" textLength="14.86" lengthAdjust="spacingAndGlyphs">−0.5</text>
<text x="19.13" y="107.49" font-size="6.72" textLength="9.8" lengthAdjust="spacingAndGlyphs">0.0</text>
<text x="19.13" y="71.74" font-size="6.72" textLength="9.66" lengthAdjust="spacingAndGlyphs">0.5</text>
<text x="19.13" y="35.98" font-size="6.72" textLength="9.8" lengthAdjust="spacingAndGlyphs">1.0</text>
<text x="-23.2" y="104.25" font-size="9.23" font-weight="bold" stroke="#000" stroke-width="0.17" textLength="62.71" lengthAdjust="spacingAndGlyphs" transform="rotate(-90 9.31 104.25)">Acceleration</text>
<text x="114.16" y="9" font-size="9.23" font-weight="bold" stroke="#000" stroke-width="0.17" textLength="138.35" lengthAdjust="spacingAndGlyphs">Gait Acceleration for User 1</text>
<text x="394.67" y="205.95" font-size="6.72" textLength="3.7" lengthAdjust="spacingAndGlyphs">0</text>
<text x="449.21" y="205.95" font-size="6.72" textLength="3.54" lengthAdjust="spacingAndGlyphs">2</text>
<text x="503.79" y="205.95" font-size="6.69" textLength="3.67" lengthAdjust="spacingAndGlyphs">4</text>
<text x="558.25" y="205.95" font-size="6.72" textLength="3.86" lengthAdjust="spacingAndGlyphs">6</text>
<text x="612.86" y="205.95" font-size="6.72" textLength="3.75" lengthAdjust="spacingAndGlyphs">8</text>
<text x="665.37" y="205.95" font-size="6.72" textLength="7.8" lengthAdjust="spacingAndGlyphs">10</text>
<text x="512.03" y="217.03" font-size="9.23" font-weight="bold" stroke="#000" stroke-width="0.17" textLength="40.6" lengthAdjust="spacingAndGlyphs">Time (s)</text>
<text x="362.98" y="177.05" font-size="6.72" textLength="15" lengthAdjust="spacingAndGlyphs">−1.0</text>
<text x="362.98" y="141.99" font-size="6.72" textLength="14.86" lengthAdjust="spacingAndGlyphs">−0.5</text>
<text x="368.13" y="106.93" font-size="6.72" textLength="9.8" lengthAdjust="spacingAndGlyphs">0.0</text>
<text x="368.13" y="71.88" font-size="6.72" textLength="9.66" lengthAdjust="spacingAndGlyphs">0.5</text>
<text x="368.13" y="36.82" font-size="6.72" textLength="9.8" lengthAdjust="spacingAndGlyphs">1.0</text>
<text x="325.8" y="104.25" font-size="9.23" font-weight="bold" stroke="#000" stroke-width="0.17" textLength="62.71" lengthAdjust="spacingAndGlyphs" transform="rotate(-90 358.31 104.25)">Acceleration</text>
<text x="463.16" y="9" font-size="9.23" font-weight="bold" stroke="#000" stroke-width="0.17" textLength="138.4" lengthAdjust="spacingAndGlyphs">Gait Acceleration for User 2</text>
<text x="45.67" y="439.95" font-size="6.72" textLength="3.7" lengthAdjust="spacingAndGlyphs">0</text>
<text x="100.21" y="439.95" font-size="6.72" textLength="3.54" lengthAdjust="spacingAndGlyphs">2</text>
<text x="154.79" y="439.95" font-size="6.69" textLength="3.67" lengthAdjust="spacingAndGlyphs">4</text>
<text x="209.25" y="439.95" font-size="6.72" textLength="3.86" lengthAdjust="spacingAndGlyphs">6</text>
<text x="263.86" y="439.95" font-size="6.72" textLength="3.75" lengthAdjust="spacingAndGlyphs">8</text>
<text x="316.37" y="439.95" font-size="6.72" textLength="7.8" lengthAdjust="spacingAndGlyphs">10</text>
<text x="163.03" y="451.03" font-size="9.23" font-weight="bold" stroke="#000" stroke-width="0.17" textLength="40.6" lengthAdjust="spacingAndGlyphs">Time (s)</text>
<text x="13.98" y="405.43" font-size="6.72" textLength="15" lengthAdjust="spacingAndGlyphs">−1.0</text>
<text x="13.98" y="371.93" font-size="6.72" textLength="14.86" lengthAdjust="spacingAndGlyphs">−0.5</text>
<text x="19.13" y="338.43" font-size="6.72" textLength="9.8" lengthAdjust="spacingAndGlyphs">0.0</text>
<text x="19.13" y="304.93" font-size="6.72" textLength="9.66" lengthAdjust="spacingAndGlyphs">0.5</text>
<text x="19.13" y="271.43" font-size="6.72" textLength="9.8" lengthAdjust="spacingAndGlyphs">1.0</text>
<text x="-23.2" y="338.25" font-size="9.23" font-weight="bold" stroke="#000" stroke-width="0.17" textLength="62.71" lengthAdjust="spacingAndGlyphs" transform="rotate(-90 9.31 338.25)">Acceleration</text>
<text x="114.16" y="243" font-size="9.23" font-weight="bold" stroke="#000" stroke-width="0.17" textLength="138.36" lengthAdjust="spacingAndGlyphs">Gait Acceleration for User 3</text>
<text x="394.67" y="439.95" font-size="6.72" textLength="3.7" lengthAdjust="spacingAndGlyphs">0</text>
<text x="449.21" y="439.95" font-size="6.72" textLength="3.54" lengthAdjust="spacingAndGlyphs">2</text>
<text x="503.79" y="439.95" font-size="6.69" textLength="3.67" lengthAdjust="spacingAndGlyphs">4</text>
<text x="558.25" y="439.95" font-size="6.72" textLength="3.86" lengthAdjust="spacingAndGlyphs">6</text>
<text x="612.86" y="439.95" font-size="6.72" textLength="3.75" lengthAdjust="spacingAndGlyphs">8</text>
<text x="665.37" y="439.95" font-size="6.72" textLength="7.8" lengthAdjust="spacingAndGlyphs">10</text>
<text x="512.03" y="451.03" font-size="9.23" font-weight="bold" stroke="#000" stroke-width="0.17" textLength="40.6" lengthAdjust="spacingAndGlyphs">Time (s)</text>
<text x="362.98" y="412.92" font-size="6.72" textLength="15" lengthAdjust="spacingAndGlyphs">−1.0</text>
<text x="362.98" y="377.63" font-size="6.72" textLength="14.86" lengthAdjust="spacingAndGlyphs">−0.5</text>
<text x="368.13" y="342.34" font-size="6.72" textLength="9.8" lengthAdjust="spacingAndGlyphs">0.0</text>
<text x="368.13" y="307.05" font-size="6.72" textLength="9.66" lengthAdjust="spacingAndGlyphs">0.5</text>
<text x="368.13" y="271.76" font-size="6.72" textLength="9.8" lengthAdjust="spacingAndGlyphs">1.0</text>
<text x="325.8" y="338.25" font-size="9.23" font-weight="bold" stroke="#000" stroke-width="0.17" textLength="62.71" lengthAdjust="spacingAndGlyphs" transform="rotate(-90 358.31 338.25)">Acceleration</text>
<text x="463.16" y="243" font-size="9.23" font-weight="bold" stroke="#000" stroke-width="0.17" textLength="138.34" lengthAdjust="spacingAndGlyphs">Gait Acceleration for User 4</text>
</svg></body></html>
